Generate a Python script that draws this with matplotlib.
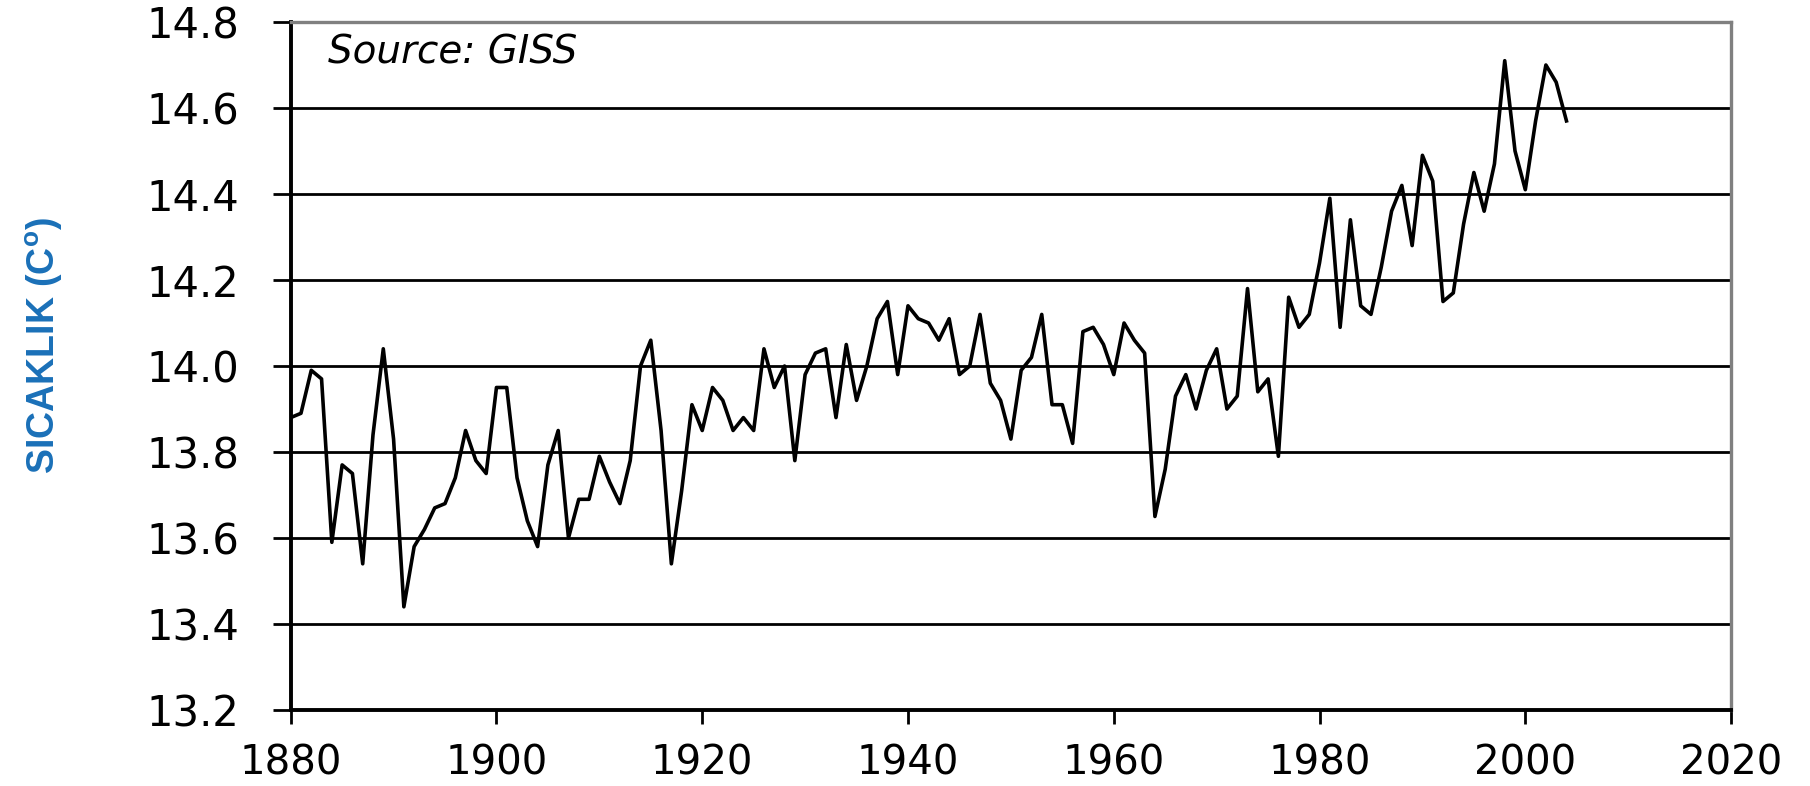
import matplotlib
matplotlib.use("Agg")
import matplotlib.pyplot as plt

# Yillik ortalama kuresel sicaklik (GISS)
years = list(range(1880, 2005))
temps = [
    13.88, 13.89, 13.99, 13.97, 13.59, 13.77, 13.75, 13.54, 13.84, 14.04,  # 1880s
    13.83, 13.44, 13.58, 13.62, 13.67, 13.68, 13.74, 13.85, 13.78, 13.75,  # 1890s
    13.95, 13.95, 13.74, 13.64, 13.58, 13.77, 13.85, 13.60, 13.69, 13.69,  # 1900s
    13.79, 13.73, 13.68, 13.78, 14.00, 14.06, 13.85, 13.54, 13.71, 13.91,  # 1910s
    13.85, 13.95, 13.92, 13.85, 13.88, 13.85, 14.04, 13.95, 14.00, 13.78,  # 1920s
    13.98, 14.03, 14.04, 13.88, 14.05, 13.92, 14.00, 14.11, 14.15, 13.98,  # 1930s
    14.14, 14.11, 14.10, 14.06, 14.11, 13.98, 14.00, 14.12, 13.96, 13.92,  # 1940s
    13.83, 13.99, 14.02, 14.12, 13.91, 13.91, 13.82, 14.08, 14.09, 14.05,  # 1950s
    13.98, 14.10, 14.06, 14.03, 13.65, 13.76, 13.93, 13.98, 13.90, 13.99,  # 1960s
    14.04, 13.90, 13.93, 14.18, 13.94, 13.97, 13.79, 14.16, 14.09, 14.12,  # 1970s
    14.24, 14.39, 14.09, 14.34, 14.14, 14.12, 14.23, 14.36, 14.42, 14.28,  # 1980s
    14.49, 14.43, 14.15, 14.17, 14.33, 14.45, 14.36, 14.47, 14.71, 14.50,  # 1990s
    14.41, 14.57, 14.70, 14.66, 14.57,                                     # 2000s
]
x_ticks = list(range(1880, 2021, 20))
y_ticks = [13.2, 13.4, 13.6, 13.8, 14.0, 14.2, 14.4, 14.6, 14.8]

YLABEL_BLUE = "#1A70B8"
BORDER_GRAY = "#808080"

fig = plt.figure(figsize=(18.1, 7.86), dpi=100)
ax = fig.add_axes([0.1606, 0.0967, 0.7958, 0.8753])

ax.plot(years, temps, color="black", lw=2.6, zorder=3)

ax.set_xlim(1880, 2020)
ax.set_ylim(13.2, 14.8)
ax.set_xticks(x_ticks)
ax.set_yticks(y_ticks)
ax.set_yticklabels([f"{v:.1f}" for v in y_ticks])

ax.yaxis.grid(True, color="black", lw=2.0)
ax.xaxis.grid(False)

for side in ("left", "bottom"):
    ax.spines[side].set_color("black")
    ax.spines[side].set_linewidth(2.8)
for side in ("top", "right"):
    ax.spines[side].set_color(BORDER_GRAY)
    ax.spines[side].set_linewidth(2.4)

ax.tick_params(axis="y", direction="out", length=13, width=2.0,
               pad=24, labelsize=30)
ax.tick_params(axis="x", direction="out", length=10, width=2.0,
               pad=14, labelsize=29)
for lbl in ax.get_xticklabels() + ax.get_yticklabels():
    lbl.set_fontfamily("DejaVu Sans")

ax.set_ylabel(r"SICAKLIK (C$^{\mathregular{o}}$)", color=YLABEL_BLUE,
              fontsize=27, fontweight="bold", family="Liberation Sans")
ax.yaxis.set_label_coords(-0.157, 0.53)

ax.text(0.026, 0.939, "Source: GISS", transform=ax.transAxes,
        fontsize=28, fontstyle="italic", family="DejaVu Sans",
        va="baseline", ha="left")

fig.savefig("out.png", dpi=100)
